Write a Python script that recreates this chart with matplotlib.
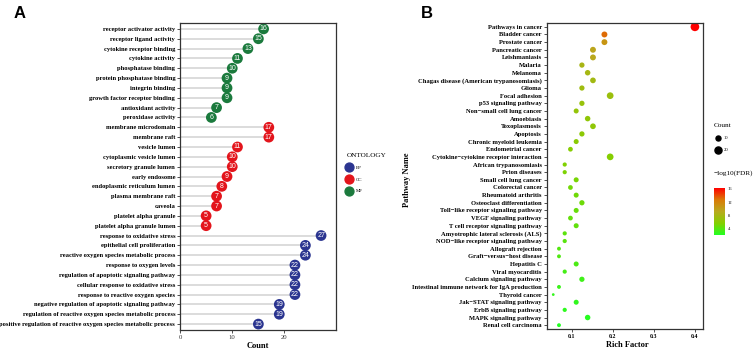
import matplotlib
matplotlib.use('Agg')
import matplotlib.pyplot as plt
import numpy as np
from matplotlib.colors import LinearSegmentedColormap
from matplotlib.lines import Line2D

plt.rcParams['font.family'] = ['Liberation Serif', 'DejaVu Serif']

# ---- panel A: GO terms ----
go_terms = ['receptor activator activity', 'receptor ligand activity', 'cytokine receptor binding',
            'cytokine activity', 'phosphatase binding', 'protein phosphatase binding',
            'integrin binding', 'growth factor receptor binding', 'antioxidant activity',
            'peroxidase activity',
            'membrane microdomain', 'membrane raft', 'vesicle lumen', 'cytoplasmic vesicle lumen',
            'secretory granule lumen', 'early endosome', 'endoplasmic reticulum lumen',
            'plasma membrane raft', 'caveola', 'platelet alpha granule', 'platelet alpha granule lumen',
            'response to oxidative stress', 'epithelial cell proliferation',
            'reactive oxygen species metabolic process', 'response to oxygen levels',
            'regulation of apoptotic signaling pathway', 'cellular response to oxidative stress',
            'response to reactive oxygen species', 'negative regulation of apoptotic signaling pathway',
            'regulation of reactive oxygen species metabolic process',
            'positive regulation of reactive oxygen species metabolic process']
go_counts = [16, 15, 13, 11, 10, 9, 9, 9, 7, 6,
             17, 17, 11, 10, 10, 9, 8, 7, 7, 5, 5,
             27, 24, 24, 22, 22, 22, 22, 19, 19, 15]
go_ont = ['MF'] * 10 + ['CC'] * 11 + ['BP'] * 10
ont_colors = {'BP': '#2B3590', 'CC': '#E3151C', 'MF': '#1B7A3D'}

# ---- panel B: KEGG pathways ----
kegg_names = ['Pathways in cancer', 'Bladder cancer', 'Prostate cancer', 'Pancreatic cancer',
              'Leishmaniasis', 'Malaria', 'Melanoma', 'Chagas disease (American trypanosomiasis)',
              'Glioma', 'Focal adhesion', 'p53 signaling pathway', 'Non\u2212small cell lung cancer',
              'Amoebiasis', 'Toxoplasmosis', 'Apoptosis', 'Chronic myeloid leukemia',
              'Endometrial cancer', 'Cytokine\u2212cytokine receptor interaction',
              'African trypanosomiasis', 'Prion diseases', 'Small cell lung cancer',
              'Colorectal cancer', 'Rheumatoid arthritis', 'Osteoclast differentiation',
              'Toll\u2212like receptor signaling pathway', 'VEGF signaling pathway',
              'T cell receptor signaling pathway', 'Amyotrophic lateral sclerosis (ALS)',
              'NOD\u2212like receptor signaling pathway', 'Allograft rejection',
              'Graft\u2212versus\u2212host disease', 'Hepatitis C', 'Viral myocarditis',
              'Calcium signaling pathway', 'Intestinal immune network for IgA production',
              'Thyroid cancer', 'Jak\u2212STAT signaling pathway', 'ErbB signaling pathway',
              'MAPK signaling pathway', 'Renal cell carcinoma']
rich_factor = [0.401, 0.180, 0.180, 0.152, 0.152, 0.125, 0.139, 0.152, 0.125, 0.194,
               0.125, 0.111, 0.139, 0.152, 0.125, 0.111, 0.097, 0.194, 0.083, 0.083,
               0.111, 0.097, 0.111, 0.125, 0.111, 0.097, 0.111, 0.083, 0.083, 0.069,
               0.069, 0.111, 0.083, 0.125, 0.069, 0.055, 0.111, 0.083, 0.139, 0.069]
kegg_counts = [30, 14, 14, 14, 14, 11, 12, 13, 11, 18,
               11, 10, 12, 13, 11, 10, 9, 18, 7, 7,
               10, 9, 10, 11, 10, 9, 10, 7, 7, 6,
               6, 10, 7, 11, 6, 3, 10, 7, 12, 6]
neglog_fdr = [16.3, 13.2, 10.8, 9.6, 9.4, 8.2, 8.0, 7.8, 7.5, 7.3,
              7.0, 6.8, 6.6, 6.5, 6.3, 6.1, 5.9, 5.8, 5.6, 5.5,
              5.3, 5.1, 5.0, 4.9, 4.7, 4.6, 4.5, 4.3, 4.2, 4.0,
              3.9, 3.7, 3.5, 3.3, 3.1, 2.9, 2.8, 2.6, 2.4, 2.2]

W, H = 753, 349
fig = plt.figure(figsize=(W / 100, H / 100), dpi=100)

def box(l, t, r, b):
    return [l / W, 1 - b / H, (r - l) / W, (b - t) / H]

spine_col = '#333333'

# ---------- A ----------
axA = fig.add_axes(box(180, 23, 335.7, 330))
ya = np.arange(len(go_terms))
axA.hlines(ya, 0, go_counts, color='#d2d2d2', lw=1.1, zorder=1)
axA.scatter(go_counts, ya, s=60, c=[ont_colors[o] for o in go_ont], zorder=2, linewidths=0)
for xv, yv in zip(go_counts, ya):
    axA.text(xv, yv, str(xv), color='white', fontsize=5, ha='center', va='center',
             family='Liberation Sans', zorder=3)
axA.set_xlim(0, 29.8)
axA.set_ylim(len(go_terms) - 0.4, -0.6)
axA.set_yticks(ya)
axA.set_yticklabels(go_terms, fontsize=4.7, fontweight='bold')
axA.set_xticks([0, 10, 20])
axA.tick_params(axis='x', labelsize=4.8, length=2, width=0.6, colors=spine_col, pad=1.5)
axA.tick_params(axis='y', length=2, width=0.6, colors=spine_col, pad=1.5)
for tl in axA.get_yticklabels():
    tl.set_color('black')
for sp in axA.spines.values():
    sp.set_color(spine_col)
    sp.set_linewidth(0.9)

fig.text(258 / W, 1 - 346 / H, 'Count', fontsize=6, fontweight='bold', ha='center', va='center')
fig.text(20 / W, 1 - 13 / H, 'A', fontsize=12, fontweight='bold', ha='center', va='center',
         family='Liberation Sans')

handlesA = [Line2D([], [], marker='o', ls='', color=ont_colors[k], markersize=6.4) for k in ['BP', 'CC', 'MF']]
legA = fig.legend(handlesA, ['BP', 'CC', 'MF'], title='ONTOLOGY', loc='upper left',
                  bbox_to_anchor=(343 / W, 1 - 150 / H), frameon=False, fontsize=3.5,
                  title_fontsize=5.2, labelspacing=1.5, handlelength=1.2, handletextpad=0.7,
                  borderpad=0.2)
legA._legend_box.align = 'left'

# ---------- B ----------
cmap = LinearSegmentedColormap.from_list('fdr', ['#22FF22', '#84CF00', '#B8AA1E', '#DA7A06', '#FF0000'])
axB = fig.add_axes(box(546.7, 23, 702.7, 329))
yb = np.arange(len(kegg_names))
sc = axB.scatter(rich_factor, yb, s=np.array(kegg_counts) * 1.3, c=neglog_fdr, cmap=cmap,
                 vmin=min(neglog_fdr), vmax=max(neglog_fdr), linewidths=0, zorder=2)
axB.set_xlim(0.039, 0.42)
axB.set_ylim(len(kegg_names) - 0.5, -0.5)
axB.set_yticks(yb)
axB.set_yticklabels(kegg_names, fontsize=4.7, fontweight='bold')
axB.set_xticks([0.1, 0.2, 0.3, 0.4])
axB.set_xticklabels(['0.1', '0.2', '0.3', '0.4'], fontsize=4.2, fontweight='bold')
axB.tick_params(length=2, width=0.6, colors=spine_col, pad=1.5)
for tl in axB.get_yticklabels() + axB.get_xticklabels():
    tl.set_color('black')
for sp in axB.spines.values():
    sp.set_color(spine_col)
    sp.set_linewidth(0.9)

fig.text(627 / W, 1 - 345 / H, 'Rich Factor', fontsize=6, fontweight='bold', ha='center', va='center')
fig.text(407 / W, 1 - 180 / H, 'Pathway Name', fontsize=6, fontweight='bold', ha='center',
         va='center', rotation=90)
fig.text(427 / W, 1 - 13 / H, 'B', fontsize=12, fontweight='bold', ha='center', va='center',
         family='Liberation Sans')

size_vals = [10, 20]
handlesB = [Line2D([], [], marker='o', ls='', color='black', markersize=np.sqrt(v * 1.3)) for v in size_vals]
legB = fig.legend(handlesB, [str(v) for v in size_vals], title='Count', loc='upper left',
                  bbox_to_anchor=(711 / W, 1 - 120 / H), frameon=False, fontsize=3.3,
                  title_fontsize=5.2, labelspacing=1.7, handlelength=1.5, handletextpad=0.5,
                  borderpad=0.2)
legB._legend_box.align = 'left'

fig.text(714 / W, 1 - 173 / H, '\u2212log10(FDR)', fontsize=5.2, ha='left', va='center')
cax = fig.add_axes(box(714, 188, 725, 235))
cb = fig.colorbar(sc, cax=cax, ticks=[4, 8, 12, 16])
cb.outline.set_visible(False)
cax.tick_params(labelsize=3.3, length=0, pad=2)

fig.savefig('out.png', dpi=100)
